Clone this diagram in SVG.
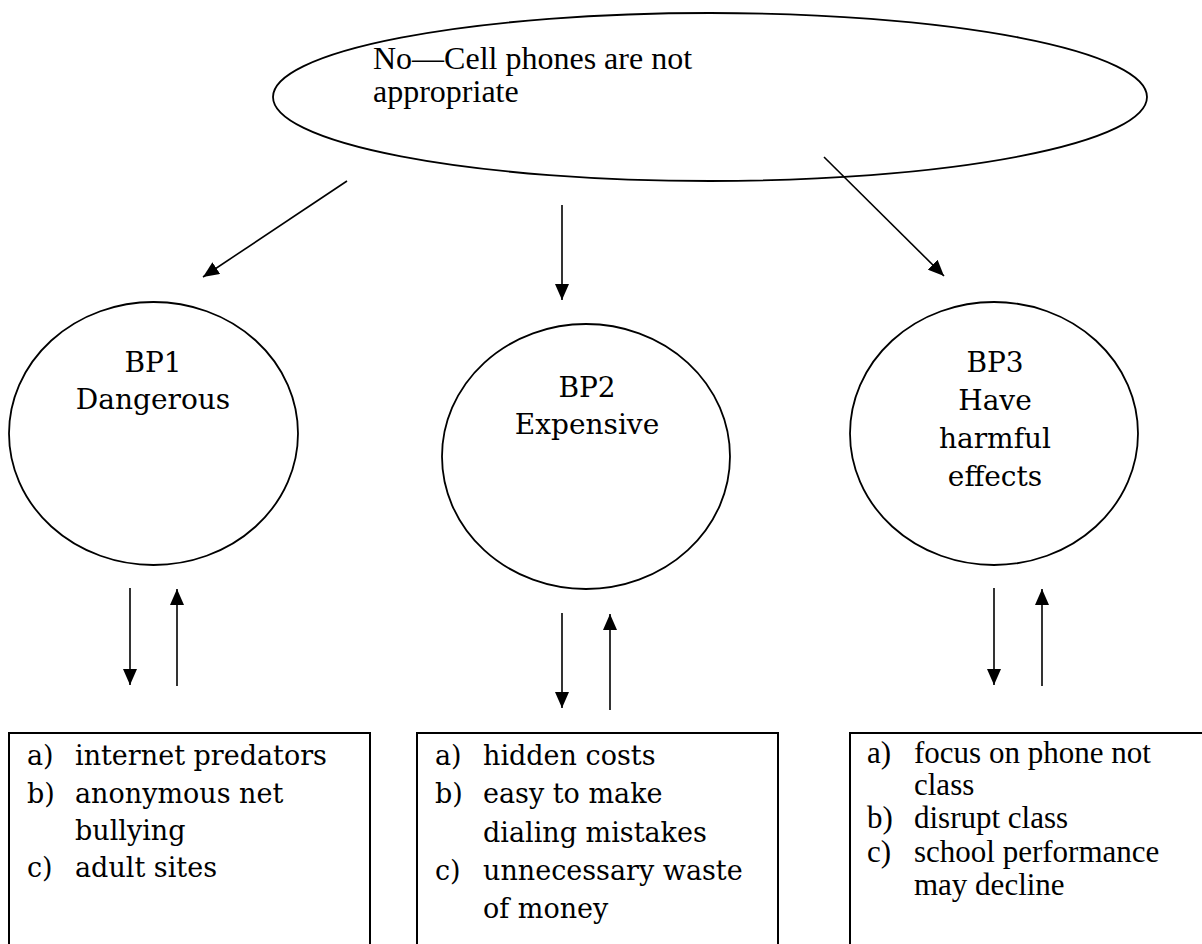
<svg xmlns="http://www.w3.org/2000/svg" width="1202" height="944" viewBox="0 0 1202 944">
<style>
.shape{fill:#fff;stroke:#000;stroke-width:1.8}
.box{fill:#fff;stroke:#000;stroke-width:2}
.conn{stroke:#000;stroke-width:1.6;fill:none}
.times{font-family:"Liberation Serif","Times New Roman",serif;font-size:31px;fill:#000}
.big{font-size:32px}
.label{font-family:"DejaVu Serif",serif;font-size:28px;fill:#000;text-anchor:middle}
.item{font-family:"DejaVu Serif",serif;font-size:27px;fill:#000}
</style>
<defs>
<marker id="ah" markerUnits="userSpaceOnUse" markerWidth="16" markerHeight="14" refX="16" refY="7" orient="auto">
<path d="M0,0 L16,7 L0,14 z" fill="#000"/>
</marker>
</defs>
<rect width="1202" height="944" fill="#fff"/>
<g id="root">
<ellipse class="shape" cx="710" cy="97" rx="437" ry="84"/>
<text class="times big" x="373" y="69">No—Cell phones are not</text>
<text class="times big" x="373" y="102">appropriate</text>
</g>
<g id="bp1">
<ellipse class="shape" cx="153.5" cy="433.5" rx="144.5" ry="131.5"/>
<text class="label" x="153" y="372">BP1</text>
<text class="label" x="153" y="409">Dangerous</text>
</g>
<g id="bp2">
<ellipse class="shape" cx="586" cy="456.5" rx="144" ry="132.5"/>
<text class="label" x="587" y="397">BP2</text>
<text class="label" x="587" y="434">Expensive</text>
</g>
<g id="bp3">
<ellipse class="shape" cx="994" cy="433.5" rx="144" ry="131.5"/>
<text class="label" x="995" y="372">BP3</text>
<text class="label" x="995" y="410">Have</text>
<text class="label" x="995" y="448">harmful</text>
<text class="label" x="995" y="486">effects</text>
</g>
<g id="box1">
<rect class="box" x="9" y="733" width="361" height="240"/>
<text class="item" x="27" y="765">a)</text><text class="item" x="75" y="765">internet predators</text>
<text class="item" x="27" y="803">b)</text><text class="item" x="75" y="803">anonymous net</text>
<text class="item" x="75" y="840">bullying</text>
<text class="item" x="27" y="877">c)</text><text class="item" x="75" y="877">adult sites</text>
</g>
<g id="box2">
<rect class="box" x="417" y="733" width="361" height="240"/>
<text class="item" x="435" y="765">a)</text><text class="item" x="483" y="765">hidden costs</text>
<text class="item" x="435" y="803">b)</text><text class="item" x="483" y="803">easy to make</text>
<text class="item" x="483" y="842">dialing mistakes</text>
<text class="item" x="435" y="880">c)</text><text class="item" x="483" y="880">unnecessary waste</text>
<text class="item" x="483" y="918">of money</text>
</g>
<g id="box3">
<rect class="box" x="850" y="733" width="380" height="240"/>
<text class="times" x="867" y="763">a)</text><text class="times" x="914" y="763">focus on phone not</text>
<text class="times" x="914" y="795">class</text>
<text class="times" x="867" y="828">b)</text><text class="times" x="914" y="828">disrupt class</text>
<text class="times" x="867" y="862">c)</text><text class="times" x="914" y="862">school performance</text>
<text class="times" x="914" y="895">may decline</text>
</g>
<g id="connectors">
<line class="conn" x1="347" y1="181" x2="203" y2="277" marker-end="url(#ah)"/>
<line class="conn" x1="562" y1="205" x2="562" y2="300" marker-end="url(#ah)"/>
<line class="conn" x1="824" y1="157" x2="944" y2="276" marker-end="url(#ah)"/>
<line class="conn" x1="130" y1="588" x2="130" y2="685" marker-end="url(#ah)"/>
<line class="conn" x1="177" y1="686" x2="177" y2="589" marker-end="url(#ah)"/>
<line class="conn" x1="562" y1="613" x2="562" y2="708" marker-end="url(#ah)"/>
<line class="conn" x1="610" y1="710" x2="610" y2="614" marker-end="url(#ah)"/>
<line class="conn" x1="994" y1="588" x2="994" y2="685" marker-end="url(#ah)"/>
<line class="conn" x1="1042" y1="686" x2="1042" y2="589" marker-end="url(#ah)"/>
</g>
</svg>
